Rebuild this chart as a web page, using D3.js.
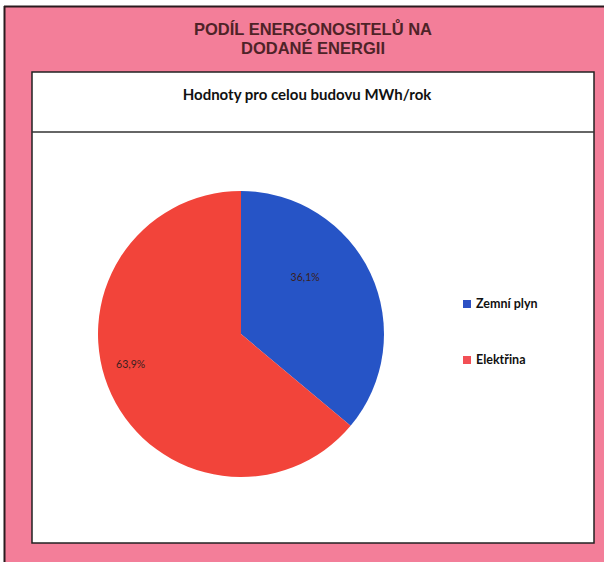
<!DOCTYPE html>
<html><head><meta charset="utf-8">
<script src="https://cdn.jsdelivr.net/npm/d3@7"></script>
<style>html,body{margin:0;padding:0;background:#fff;}svg{display:block;}</style>
</head><body>
<svg id="c" width="604" height="562"></svg>
<script>
const titleLines = ["PODÍL ENERGONOSITELŮ NA", "DODANÉ ENERGII"];
const subtitle = "Hodnoty pro celou budovu MWh/rok";
const categories = ["Zemní plyn", "Elektřina"];
const values = [36.1, 63.9];
const sliceColors = ["#2654c6", "#f2443a"];
const legendColors = ["#2c50c4", "#f24f55"];

const svg = d3.select("#c");
// outer pink frame
svg.append("rect").attr("x",0).attr("y",0).attr("width",604).attr("height",562).attr("fill","#fff");
svg.append("rect").attr("x",4).attr("y",6).attr("width",604).attr("height",562).attr("fill","#f37e99");
svg.append("line").attr("x1",4.5).attr("y1",6).attr("x2",4.5).attr("y2",562).attr("stroke","#2a1a1e").attr("stroke-width",2);
svg.append("line").attr("x1",4).attr("y1",6.5).attr("x2",604).attr("y2",6.5).attr("stroke","#2a1a1e").attr("stroke-width",2);

// title
svg.append("g").selectAll("text").data(titleLines).join("text")
  .attr("x",313).attr("y",(d,i)=>35+i*18.5).attr("text-anchor","middle")
  .attr("font-family","Liberation Sans, Arial, sans-serif").attr("font-weight","bold")
  .attr("font-size",16.5).attr("fill","#4e2328").text(d=>d);

// inner white panel
svg.append("rect").attr("x",32).attr("y",72).attr("width",562).attr("height",471)
  .attr("fill","#fff").attr("stroke","#222").attr("stroke-width",1.5);
svg.append("line").attr("x1",32).attr("y1",132).attr("x2",594).attr("y2",132).attr("stroke","#333").attr("stroke-width",1.5);

svg.append("text").attr("x",307).attr("y",100).attr("text-anchor","middle")
  .attr("font-family","Lato, 'Open Sans', sans-serif").attr("font-weight","bold")
  .attr("font-size",15).attr("fill","#111").text(subtitle);

// pie
const cx = 241, cy = 334, r = 143;
const pie = d3.pie().sort(null).startAngle(0).endAngle(2*Math.PI);
const arcs = pie(values);
const arc = d3.arc().innerRadius(0).outerRadius(r);
const g = svg.append("g").attr("transform",`translate(${cx},${cy})`);
g.selectAll("path").data(arcs).join("path").attr("d",arc).attr("fill",(d,i)=>sliceColors[i]);

const fmt = v => d3.format(".1f")(v).replace(".", ",") + "%";
// best-fit style label placement: nudged from bisector
const angleNudge = [-0.29, 0.17];
const radFrac = [0.6, 0.8];
g.selectAll("text").data(arcs).join("text")
  .attr("transform",(d,i)=>{
    const mid = (d.startAngle + d.endAngle)/2 + angleNudge[i];
    return `translate(${d3.pointRadial(mid, r*radFrac[i])})`;
  })
  .attr("text-anchor","middle").attr("dy","0.35em")
  .attr("font-family","Lato, sans-serif").attr("font-size",10.5)
  .attr("fill","#3a2020").text(d=>fmt(d.data));

// legend
const lg = svg.append("g").selectAll("g").data(categories).join("g")
  .attr("transform",(d,i)=>`translate(463,${304+i*56})`);
lg.append("rect").attr("x",0).attr("y",-4).attr("width",8).attr("height",8).attr("fill",(d,i)=>legendColors[i]);
lg.append("text").attr("x",13).attr("y",0).attr("dy","0.35em")
  .attr("font-family","Lato, sans-serif").attr("font-weight","bold").attr("font-size",12.5)
  .attr("fill","#111").text(d=>d);
</script>
</body></html>
